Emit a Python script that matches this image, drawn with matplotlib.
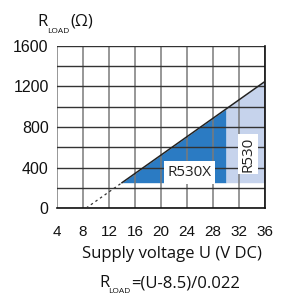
import matplotlib
matplotlib.use("Agg")
import matplotlib.pyplot as plt
import numpy as np

# Data
u_min, u_max = 4, 36
r_min, r_max = 0, 1600
x_ticks = [4, 8, 12, 16, 20, 24, 28, 32, 36]
y_ticks = [0, 400, 800, 1200, 1600]
u0 = 8.5          # line intercept (V)
slope = 0.022     # A
r_floor = 250     # bottom of shaded regions (ohm)
dash_u = [8.5, 14]
solid_u = [14, 36]
r530x_u = [14, 30]
r530_u = [30, 36]

def r_load(u):
    return (np.asarray(u, dtype=float) - u0) / slope

W, H = 282, 295
fig = plt.figure(figsize=(W/100, H/100), dpi=100)
ax = fig.add_axes([57/W, 1-208/H, 208/W, 162/H])
ax.set_xlim(u_min, u_max)
ax.set_ylim(r_min, r_max)

dark = "#2b7bc3"
light = "#c6d3ec"

ux = np.array(r530x_u, dtype=float)
ax.fill_between(ux, r_floor, r_load(ux), color=dark, lw=0, zorder=1)
ul = np.array(r530_u, dtype=float)
ax.fill_between(ul, r_floor, r_load(ul), color=light, lw=0, zorder=1)

# grid
for x in np.arange(u_min, u_max + 1, 4):
    ax.axvline(x, color="#7a7a7a", lw=1.1, zorder=2)
for y in np.arange(0, r_max + 1, 200):
    ax.axhline(y, color="#333333", lw=1.0, zorder=2)

du = np.array(dash_u)
ax.plot(du, r_load(du), color="#333333", lw=0.9, ls=(0, (2, 2.5)), zorder=3)
su = np.array(solid_u)
ax.plot(su, r_load(su), color="#222222", lw=1.1, zorder=3)

for s in ["top", "left"]:
    ax.spines[s].set_visible(False)
for s in ["right", "bottom"]:
    ax.spines[s].set_color("#111111")
    ax.spines[s].set_linewidth(1.2)

ax.set_xticks(x_ticks)
ax.set_yticks(y_ticks)
ax.set_xticklabels([str(t) for t in x_ticks], fontsize=11, family="Liberation Sans", color="#111111")
ax.set_yticklabels([str(t) for t in y_ticks], fontsize=11.5, family="Liberation Sans", color="#111111")
ax.tick_params(axis="x", length=0, pad=12)
ax.tick_params(axis="y", length=0, pad=6)

ax.text(24.4, 350, "R530X", fontsize=11, family="Open Sans", ha="center", va="center",
        color="#222222", zorder=4,
        bbox=dict(boxstyle="square,pad=0.25", fc="white", ec="none"))
ax.text(33.4, 533, "R530", fontsize=11, family="Open Sans", ha="center", va="center",
        rotation=90, color="#222222", zorder=4,
        bbox=dict(boxstyle="square,pad=0.18", fc="white", ec="none"))

def ptext(x, y, s, size, **kw):
    fig.text(x/W, 1-y/H, s, fontsize=size, family="Open Sans", ha="left",
             va="baseline", color="#111111", **kw)

# top label
ptext(37, 26, "R", 12)
ptext(47, 33, "LOAD", 6)
ptext(70, 26, "(Ω)", 12)

# x label
fig.text(172/W, 1-258/H, "Supply voltage U (V DC)", fontsize=12,
         family="Open Sans", ha="center", va="baseline", color="#111111")

# formula
ptext(99, 287, "R", 12)
ptext(108, 293, "LOAD", 6)
ptext(131, 287, "=(U-8.5)/0.022", 12)

fig.savefig("out.png", dpi=100)
